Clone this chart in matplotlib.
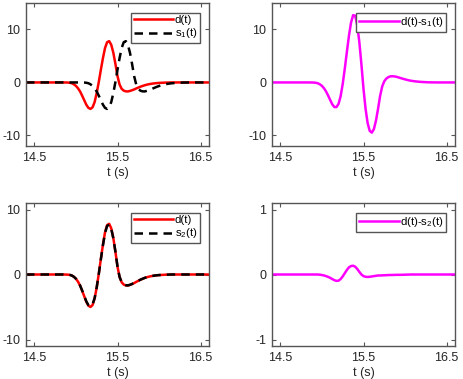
import numpy as np
import matplotlib
matplotlib.use("Agg")
import matplotlib.pyplot as plt

plt.rcParams['font.family'] = ['Liberation Sans', 'DejaVu Sans']
plt.rcParams['mathtext.fontset'] = 'custom'
plt.rcParams['mathtext.rm'] = 'Liberation Sans'
plt.rcParams['mathtext.it'] = 'Liberation Sans:italic'
plt.rcParams['mathtext.default'] = 'regular'
plt.rcParams['axes.unicode_minus'] = False

# time samples: flat lead-in, 0.025 s grid over the pulse, flat tail
t_grid = np.round(np.arange(14.9, 16.3001, 0.025), 3)
t = np.concatenate([[14.4, 14.6, 14.8, 14.85], t_grid, [16.4, 16.6]])
lead = [0, 0, 0, 0]
tail = [0, 0]

d_t = lead + [-0.02, -0.06, -0.15, -0.35, -0.65, -1.1, -1.7, -2.5, -3.35, -4.2,
              -4.8, -5.0, -4.7, -3.7, -2.0, 0.1, 2.4, 4.6, 6.5, 7.6,
              7.8, 7.1, 5.6, 3.5, 1.2, -0.4, -1.2, -1.55, -1.68, -1.7,
              -1.6, -1.47, -1.32, -1.14, -0.97, -0.81, -0.67, -0.54, -0.43, -0.34,
              -0.27, -0.21, -0.16, -0.12, -0.09, -0.07, -0.05, -0.03, -0.02, -0.01,
              0, 0, 0, 0, 0, 0, 0] + tail

s1_t = lead + [0, 0, 0, 0, 0, 0, 0, -0.01, -0.02, -0.06,
               -0.15, -0.35, -0.65, -1.1, -1.7, -2.5, -3.35, -4.2, -4.8, -5.0,
               -4.7, -3.7, -2.0, 0.1, 2.4, 4.6, 6.5, 7.6, 7.8, 7.1,
               5.6, 3.5, 1.2, -0.4, -1.2, -1.55, -1.68, -1.7, -1.6, -1.47,
               -1.32, -1.14, -0.97, -0.81, -0.67, -0.54, -0.43, -0.34, -0.27, -0.21,
               -0.16, -0.12, -0.09, -0.07, -0.05, -0.03, -0.02] + tail

d_minus_s1 = lead + [-0.02, -0.06, -0.15, -0.35, -0.65, -1.1, -1.7, -2.49, -3.33, -4.14,
                     -4.65, -4.65, -4.05, -2.6, -0.3, 2.6, 5.75, 8.8, 11.3, 12.7,
                     12.6, 10.8, 7.6, 3.4, -1.2, -5.0, -7.7, -9.15, -9.48, -8.8,
                     -7.2, -4.97, -2.52, -0.74, 0.23, 0.74, 1.01, 1.16, 1.17, 1.13,
                     1.05, 0.93, 0.81, 0.69, 0.58, 0.47, 0.38, 0.31, 0.25, 0.20,
                     0.16, 0.12, 0.09, 0.07, 0.05, 0.03, 0.02] + tail

s2_t = lead + [-0.02, -0.06, -0.15, -0.347, -0.642, -1.085, -1.675, -2.463, -3.298, -4.13,
               -4.712, -4.902, -4.605, -3.63, -1.97, 0.08, 2.33, 4.49, 6.37, 7.465,
               7.68, 7.015, 5.56, 3.5, 1.225, -0.365, -1.162, -1.515, -1.65, -1.675,
               -1.58, -1.455, -1.305, -1.127, -0.958, -0.8, -0.662, -0.532, -0.423, -0.334,
               -0.265, -0.205, -0.155, -0.116, -0.087, -0.068, -0.049, -0.03, -0.02, -0.01,
               0, 0, 0, 0, 0, 0, 0] + tail

d_minus_s2 = lead + [0, 0, 0, -0.003, -0.008, -0.015, -0.025, -0.037, -0.052, -0.07,
                     -0.088, -0.098, -0.095, -0.07, -0.03, 0.02, 0.07, 0.11, 0.13, 0.135,
                     0.12, 0.085, 0.04, 0.0, -0.025, -0.035, -0.038, -0.035, -0.03, -0.025,
                     -0.02, -0.015, -0.015, -0.013, -0.012, -0.01, -0.008, -0.008, -0.007, -0.006,
                     -0.005, -0.005, -0.005, -0.004, -0.003, -0.002, -0.001, 0, 0, 0,
                     0, 0, 0, 0, 0, 0, 0] + tail

x_ticks = [14.5, 15.5, 16.5]
x_lim = (14.4, 16.6)

FRAME = '#555555'
LW = 1.8

W, H = 463, 379
fig = plt.figure(figsize=(W / 100, H / 100), dpi=100)


def make_axes(left, top, ylim, yticks):
    ax = fig.add_axes([left / W, (H - top - 143) / H, 183 / W, 143 / H])
    ax.set_xlim(*x_lim)
    ax.set_ylim(*ylim)
    ax.set_xticks(x_ticks)
    ax.set_xticklabels(['14.5', '15.5', '16.5'])
    ax.set_yticks(yticks)
    ax.set_yticklabels([str(v) for v in yticks])
    ax.tick_params(direction='in', length=3, width=0.8, top=True, right=True,
                   labelsize=9, colors=FRAME, labelcolor='#262626', pad=4.2)
    for sp in ax.spines.values():
        sp.set_color(FRAME)
        sp.set_linewidth(1.0)
    ax.set_xlabel('t (s)', fontsize=9, color='#262626', labelpad=2.0)
    return ax


def add_legend(ax):
    leg = ax.legend(loc='upper right', bbox_to_anchor=(1 - 9 / 183, 1 - 9.5 / 143),
                    borderaxespad=0, fontsize=8.2, fancybox=False, framealpha=1,
                    edgecolor=FRAME, handlelength=3.5, handletextpad=0.1,
                    borderpad=0.25, labelspacing=0.1)
    leg.get_frame().set_linewidth(1.0)
    return leg


ax1 = make_axes(26, 3, (-12, 15), [-10, 0, 10])
ax1.plot(t, d_t, color='red', lw=LW, label='d(t)')
ax1.plot(t, s1_t, color='black', lw=LW, ls=(0, (3.4, 2.4)), label='s$_1$(t)')
add_legend(ax1)

ax2 = make_axes(272, 3, (-12, 15), [-10, 0, 10])
ax2.plot(t, d_minus_s1, color='magenta', lw=LW, label='d(t)-s$_1$(t)')
add_legend(ax2)

ax3 = make_axes(26, 203, (-11, 11), [-10, 0, 10])
ax3.plot(t, d_t, color='red', lw=LW, label='d(t)')
ax3.plot(t, s2_t, color='black', lw=LW, ls=(0, (3.4, 2.4)), label='s$_2$(t)')
add_legend(ax3)

ax4 = make_axes(272, 203, (-1.1, 1.1), [-1, 0, 1])
ax4.plot(t, d_minus_s2, color='magenta', lw=LW, label='d(t)-s$_2$(t)')
add_legend(ax4)

fig.savefig('out.png', dpi=100, facecolor='white')
